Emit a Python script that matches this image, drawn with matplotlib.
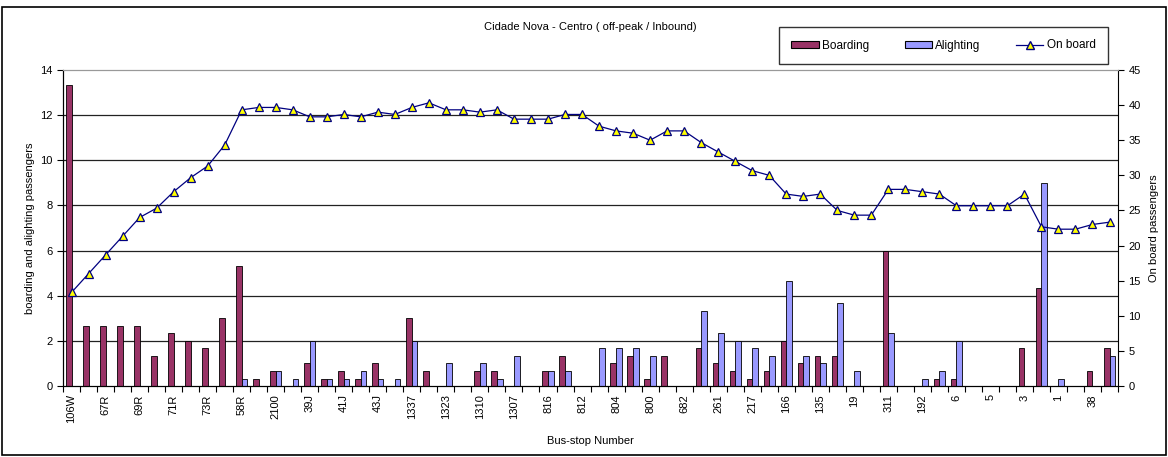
import numpy as np
import matplotlib
matplotlib.use('Agg')
import matplotlib.pyplot as plt
from matplotlib.patches import Rectangle
from matplotlib.lines import Line2D

plt.rcParams['font.family'] = ['Liberation Sans', 'DejaVu Sans']

# 62 paradas; so as pares levam rotulo no eixo
tick_labels = ['106W', '67R', '69R', '71R', '73R', '58R', '2100', '39J', '41J', '43J',
               '1337', '1323', '1310', '1307', '816', '812', '804', '800', '682', '261',
               '217', '166', '135', '19', '311', '192', '6', '5', '3', '1', '38']

boarding = [13.33, 2.67, 2.67, 2.67, 2.67, 1.33, 2.33, 2.0, 1.67, 3.0,
            5.33, 0.33, 0.67, 0.0, 1.0, 0.33, 0.67, 0.33, 1.0, 0.0,
            3.0, 0.67, 0.0, 0.0, 0.67, 0.67, 0.0, 0.0, 0.67, 1.33,
            0.0, 0.0, 1.0, 1.33, 0.33, 1.33, 0.0, 1.67, 1.0, 0.67,
            0.33, 0.67, 2.0, 1.0, 1.33, 1.33, 0.0, 0.0, 6.0, 0.0,
            0.0, 0.33, 0.33, 0.0, 0.0, 0.0, 1.67, 4.33, 0.0, 0.0,
            0.67, 1.67]

alighting = [0.0, 0.0, 0.0, 0.0, 0.0, 0.0, 0.0, 0.0, 0.0, 0.0,
             0.33, 0.0, 0.67, 0.33, 2.0, 0.33, 0.33, 0.67, 0.33, 0.33,
             2.0, 0.0, 1.0, 0.0, 1.0, 0.33, 1.33, 0.0, 0.67, 0.67,
             0.0, 1.67, 1.67, 1.67, 1.33, 0.0, 0.0, 3.33, 2.33, 2.0,
             1.67, 1.33, 4.67, 1.33, 1.0, 3.67, 0.67, 0.0, 2.33, 0.0,
             0.33, 0.67, 2.0, 0.0, 0.0, 0.0, 0.0, 9.0, 0.33, 0.0,
             0.0, 1.33]

on_board = [13.33, 16.0, 18.67, 21.33, 24.0, 25.33, 27.67, 29.67, 31.33, 34.33,
            39.33, 39.67, 39.67, 39.33, 38.33, 38.33, 38.67, 38.33, 39.0, 38.67,
            39.67, 40.33, 39.33, 39.33, 39.0, 39.33, 38.0, 38.0, 38.0, 38.67,
            38.67, 37.0, 36.33, 36.0, 35.0, 36.33, 36.33, 34.67, 33.33, 32.0,
            30.67, 30.0, 27.33, 27.0, 27.33, 25.0, 24.33, 24.33, 28.0, 28.0,
            27.67, 27.33, 25.67, 25.67, 25.67, 25.67, 27.33, 22.67, 22.33, 22.33,
            23.0, 23.33]

c_board = '#993366'
c_alight = '#9999FF'
c_line = '#000080'

x = np.arange(len(boarding))
w = 0.33

fig = plt.figure(figsize=(11.68, 4.57), dpi=100)
ax = fig.add_axes([0.054, 0.1554, 0.9032, 0.6914])

for v in range(2, 14, 2):
    ax.axhline(v, color='#222222', lw=0.9, zorder=0)

ax.bar(x - w / 2, boarding, width=w, color=c_board, edgecolor='black', lw=0.6, zorder=2)
ax.bar(x + w / 2, alighting, width=w, color=c_alight, edgecolor='black', lw=0.6, zorder=2)

ax.set_xlim(-0.5, len(x) - 0.5)
ax.set_ylim(0, 14)
ax.set_yticks(range(0, 15, 2))
ax.set_xticks(x[::2])
ax.set_xticklabels(tick_labels, rotation=90, fontsize=8)
ax.set_xticks(np.arange(-0.5, len(x), 1), minor=True)
ax.tick_params(axis='x', which='major', length=0, pad=6)
ax.tick_params(axis='x', which='minor', length=4, width=0.8)
ax.tick_params(axis='y', labelsize=8, length=4, width=0.8)
ax.set_ylabel('boarding and alighting passengers', fontsize=8, labelpad=4)
ax.set_xlabel('Bus-stop Number', fontsize=8, labelpad=9)

ax.spines['top'].set_color('#999999')
ax.spines['right'].set_visible(False)

ax2 = ax.twinx()
ax2.plot(x, on_board, color=c_line, lw=0.9, marker='^', markersize=5.5,
         markerfacecolor='#FFFF00', markeredgecolor=c_line, markeredgewidth=0.9, zorder=3)
ax2.set_ylim(0, 45)
ax2.set_yticks(range(0, 46, 5))
ax2.tick_params(axis='y', labelsize=8, length=4, width=0.8)
ax2.set_ylabel('On board passengers', fontsize=8, labelpad=6)
ax2.spines['top'].set_color('#999999')

fig.text(0.505, 0.941, 'Cidade Nova - Centro ( off-peak / Inbound)', ha='center', va='center', fontsize=8)

handles = [Rectangle((0, 0), 1, 1, facecolor=c_board, edgecolor='black', lw=0.8),
           Rectangle((0, 0), 1, 1, facecolor=c_alight, edgecolor='black', lw=0.8),
           Line2D([], [], color=c_line, lw=0.9, marker='^', markersize=5.5,
                  markerfacecolor='#FFFF00', markeredgecolor=c_line)]
leg = fig.legend(handles, ['Boarding', 'Alighting', 'On board'], ncol=3,
                 loc='center', bbox_to_anchor=(943.5 / 1168, 1 - 45.5 / 457),
                 fontsize=8.5, frameon=True, fancybox=False, edgecolor='black',
                 handlelength=2.3, handleheight=0.6, columnspacing=3.0,
                 borderpad=1.05, handletextpad=0.3)
leg.get_frame().set_linewidth(1.0)

fig.patches.append(Rectangle((2 / 1168, 2 / 457), 1164 / 1168, 448 / 457,
                             transform=fig.transFigure, fill=False,
                             edgecolor='black', lw=1.2))

fig.savefig('out.png', dpi=100)
